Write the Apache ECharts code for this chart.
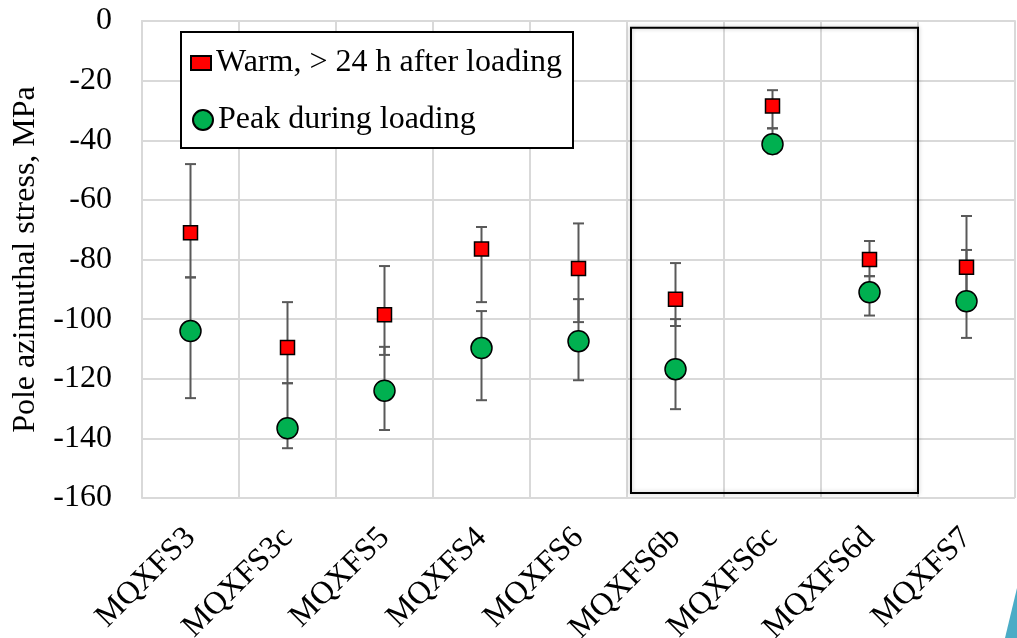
<!DOCTYPE html>
<html lang="en">
<head>
    <meta charset="UTF-8">
    <title>Pole azimuthal stress</title>
    <script src="https://cdn.jsdelivr.net/npm/echarts@6/dist/echarts.min.js"></script>
    <style>
        html, body { height: 100%; margin: 0; background: #fff; }
        #main { width: 1017px; height: 638px; }
    </style>
</head>
<body>
<div id="main"></div>
<script>
    // magnet names
    var categories = ['MQXFS3', 'MQXFS3c', 'MQXFS5', 'MQXFS4', 'MQXFS6', 'MQXFS6b', 'MQXFS6c', 'MQXFS6d', 'MQXFS7'];

    // warm, > 24 h after loading (MPa) and error bar ends
    var warm     = [-71, -109.5, -98.5, -76.5, -83, -93.3, -28.5, -80, -82.6];
    var warmLow  = [-86, -121.5, -112, -94.3, -101, -102.3, -36, -85.6, -94];
    var warmHigh = [-48, -94.3, -82.2, -69.1, -67.9, -81.2, -23.2, -73.8, -65.4];

    // peak during loading (MPa) and error bar ends
    var peak     = [-104, -136.6, -124, -109.7, -107.4, -116.8, -41.3, -91, -94];
    var peakLow  = [-126.5, -143.3, -137.2, -127.2, -120.5, -130.2, -44.4, -98.8, -106.3];
    var peakHigh = [-86, -121.5, -109.3, -97.3, -93.3, -100, -36, -85.6, -76.8];

    var yTicks = [0, -20, -40, -60, -80, -100, -120, -140, -160];

    var FONT = '"Liberation Serif", "Times New Roman", serif';
    var FS = 32;

    function errData(low, high) {
        return categories.map(function (c, i) { return [i, low[i], high[i]]; });
    }

    function renderErr(params, api) {
        var lo = api.coord([api.value(0), api.value(1)]);
        var hi = api.coord([api.value(0), api.value(2)]);
        var cap = 5.5;
        var st = { stroke: '#595959', lineWidth: 2 };
        return {
            type: 'group',
            children: [
                { type: 'line', shape: { x1: lo[0], y1: lo[1], x2: hi[0], y2: hi[1] }, style: st },
                { type: 'line', shape: { x1: lo[0] - cap, y1: lo[1], x2: lo[0] + cap, y2: lo[1] }, style: st },
                { type: 'line', shape: { x1: hi[0] - cap, y1: hi[1], x2: hi[0] + cap, y2: hi[1] }, style: st }
            ]
        };
    }

    var chart = echarts.init(document.getElementById('main'));

    var option = {
        animation: false,
        backgroundColor: '#fff',
        grid: { left: 142, right: 2, top: 21, bottom: 140, containLabel: false, outerBoundsMode: 'none' },
        legend: [
            {
                data: ['Warm, > 24 h after loading'],
                left: 190, top: 47,
                itemWidth: 20, itemHeight: 14,
                padding: 0,
                textStyle: { fontFamily: FONT, fontSize: FS, color: '#000' }
            },
            {
                data: ['Peak during loading'],
                left: 192, top: 104,
                itemWidth: 20, itemHeight: 20,
                padding: 0,
                textStyle: { fontFamily: FONT, fontSize: FS, color: '#000' }
            }
        ],
        xAxis: {
            type: 'category',
            data: categories,
            boundaryGap: true,
            axisLine: { lineStyle: { color: '#d9d9d9', width: 2 } },
            axisTick: { show: false },
            splitLine: { show: true, lineStyle: { color: '#d9d9d9', width: 2 } },
            axisLabel: {
                rotate: 45,
                margin: 35,
                fontFamily: FONT,
                fontSize: FS,
                color: '#000'
            }
        },
        yAxis: {
            type: 'value',
            min: -160,
            max: 0,
            interval: 20,
            name: 'Pole azimuthal stress, MPa',
            nameLocation: 'middle',
            nameGap: 100,
            nameTextStyle: { fontFamily: FONT, fontSize: FS, color: '#000' },
            axisLine: { show: true, lineStyle: { color: '#d9d9d9', width: 2 } },
            axisTick: { show: false },
            splitLine: { lineStyle: { color: '#d9d9d9', width: 2 } },
            axisLabel: {
                margin: 30,
                fontFamily: FONT,
                fontSize: FS,
                color: '#000',
                formatter: function (v) { return yTicks.indexOf(v) >= 0 ? String(v) : ''; }
            }
        },
        series: [
            {
                type: 'custom',
                name: 'warmErr',
                renderItem: renderErr,
                encode: { x: 0, y: [1, 2] },
                data: errData(warmLow, warmHigh),
                z: 2
            },
            {
                type: 'custom',
                name: 'peakErr',
                renderItem: renderErr,
                encode: { x: 0, y: [1, 2] },
                data: errData(peakLow, peakHigh),
                z: 2
            },
            {
                type: 'scatter',
                name: 'Warm, > 24 h after loading',
                data: warm,
                symbol: 'rect',
                symbolSize: 14,
                itemStyle: { color: '#ff0000', borderColor: '#000', borderWidth: 1.5, opacity: 1 },
                z: 5
            },
            {
                type: 'scatter',
                name: 'Peak during loading',
                data: peak,
                symbol: 'circle',
                symbolSize: 21,
                itemStyle: { color: '#00b050', borderColor: '#000', borderWidth: 1.5, opacity: 1 },
                z: 4
            }
        ]
    };

    chart.setOption(option);

    // box around the MQXFS6b..MQXFS6d group, and the legend frame
    var bandL = chart.convertToPixel({ xAxisIndex: 0 }, 'MQXFS6b');
    var bandR = chart.convertToPixel({ xAxisIndex: 0 }, 'MQXFS6d');
    var halfBand = (bandR - bandL) / 4;
    var boxTop = chart.convertToPixel({ yAxisIndex: 0 }, -2.3);
    var boxBot = chart.convertToPixel({ yAxisIndex: 0 }, -158.3);

    chart.setOption({
        graphic: [
            {
                type: 'rect',
                shape: { x: bandL - halfBand + 4, y: boxTop, width: (bandR - bandL) + 2 * halfBand - 4, height: boxBot - boxTop },
                style: { fill: 'none', stroke: '#000', lineWidth: 2, shadowBlur: 4, shadowColor: 'rgba(0,0,0,0.25)' },
                z: 3
            },
            {
                type: 'rect',
                shape: { x: 181, y: 32, width: 392, height: 116 },
                style: { fill: '#fff', stroke: '#000', lineWidth: 2 },
                z: 0,
                zlevel: 0
            },
            {
                type: 'polygon',
                shape: { points: [[1005, 638], [1017, 588], [1017, 638]] },
                style: { fill: '#4bacc6' }
            }
        ]
    });
</script>
</body>
</html>
